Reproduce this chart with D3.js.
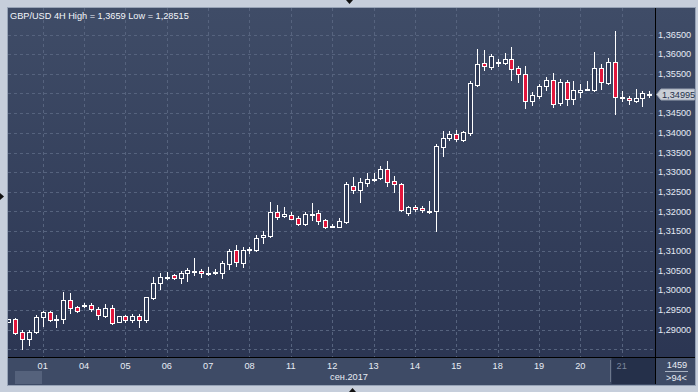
<!DOCTYPE html>
<html><head><meta charset="utf-8">
<script src="https://cdn.jsdelivr.net/npm/d3@7"></script>
<style>
html,body{margin:0;padding:0;background:#c6cedb;overflow:hidden;}
svg{display:block;font-family:"Liberation Sans",Arial,sans-serif;}
</style></head><body>
<svg id="c" width="698" height="392"></svg>
<script>
// ---- data (GBP/USD 4H candles) ----
const opens  = [1.29198,1.29259,1.28937,1.28751,1.28944,1.29310,1.29452,1.29259,1.29259,1.29742,
1.29564,1.29630,1.29622,1.29513,1.29351,1.29538,1.29198,1.29335,1.29249,1.29335,
1.29241,1.29813,1.30173,1.30334,1.30377,1.30316,1.30427,1.30494,1.30486,1.30443,
1.30468,1.30443,1.30671,1.31012,1.30697,1.31045,1.31019,1.31342,1.31375,1.31985,
1.31875,1.31901,1.31827,1.31680,1.31941,1.31951,1.31781,1.31621,1.31611,1.31738,
1.32637,1.32543,1.32729,1.32830,1.32840,1.33069,1.32772,1.32696,1.31967,1.32104,
1.32086,1.32018,1.32010,1.33643,1.33856,1.33983,1.33813,1.33991,1.35218,1.35769,
1.35675,1.35802,1.35777,1.35888,1.35642,1.35507,1.34812,1.34939,1.35185,1.35337,
1.34761,1.35287,1.34855,1.35040,1.35101,1.35083,1.35642,1.35279,1.35795,1.34898,
1.34880,1.34812,1.34888,1.34995];
const highs  = [1.29279,1.29284,1.28987,1.28987,1.29361,1.29478,1.29478,1.29368,1.29953,1.29935,
1.29597,1.29681,1.29665,1.29579,1.29648,1.29615,1.29343,1.29368,1.29386,1.29401,
1.29838,1.30326,1.30427,1.30461,1.30410,1.30486,1.30562,1.30816,1.30529,1.30588,
1.30529,1.30740,1.31052,1.31146,1.31088,1.31103,1.31400,1.31494,1.32239,1.32162,
1.32104,1.31977,1.31878,1.31985,1.32213,1.32035,1.31807,1.31680,1.31832,1.32739,
1.32874,1.32848,1.32983,1.32983,1.33153,1.33280,1.32899,1.32729,1.32137,1.32162,
1.32129,1.32264,1.33712,1.34034,1.34034,1.34067,1.34034,1.35312,1.36142,1.36099,
1.35998,1.35888,1.36031,1.36176,1.35693,1.35701,1.35033,1.35253,1.35414,1.35515,
1.35363,1.35355,1.35320,1.35236,1.35320,1.36049,1.35744,1.35896,1.36590,1.35066,
1.34949,1.35126,1.35066,1.35058];
const lows   = [1.29178,1.28878,1.28515,1.28614,1.28903,1.29089,1.29216,1.29056,1.29157,1.29411,
1.29445,1.29572,1.29478,1.29274,1.29325,1.29132,1.29191,1.29198,1.29198,1.29071,
1.29198,1.29775,1.30021,1.30283,1.30275,1.30189,1.30232,1.30392,1.30341,1.30377,
1.30417,1.30316,1.30537,1.30613,1.30595,1.30935,1.31002,1.31205,1.31357,1.31799,
1.31865,1.31799,1.31662,1.31654,1.31781,1.31672,1.31586,1.31596,1.31604,1.31697,
1.32475,1.32246,1.32653,1.32780,1.32830,1.32653,1.32500,1.32010,1.31916,1.32018,
1.31992,1.31967,1.31510,1.33407,1.33813,1.33796,1.33780,1.33948,1.35185,1.35591,
1.35634,1.35711,1.35761,1.35337,1.35287,1.34634,1.34710,1.34888,1.35083,1.34659,
1.34710,1.34710,1.34745,1.34913,1.35083,1.35066,1.35109,1.35236,1.34474,1.34812,
1.34721,1.34779,1.34677,1.34913];
const closes = [1.29259,1.28919,1.28751,1.28937,1.29310,1.29437,1.29241,1.29262,1.29742,1.29554,
1.29478,1.29632,1.29513,1.29361,1.29538,1.29173,1.29335,1.29249,1.29335,1.29249,
1.29818,1.30173,1.30326,1.30336,1.30321,1.30427,1.30511,1.30496,1.30427,1.30445,
1.30470,1.30689,1.30994,1.30707,1.31019,1.31047,1.31316,1.31400,1.31985,1.31865,
1.31934,1.31819,1.31687,1.31934,1.31943,1.31764,1.31611,1.31623,1.31756,1.32696,
1.32551,1.32739,1.32823,1.32832,1.33077,1.32739,1.32688,1.32028,1.32104,1.32053,
1.32028,1.32020,1.33661,1.33856,1.33966,1.33831,1.34009,1.35279,1.35744,1.35693,
1.35947,1.35804,1.35888,1.35624,1.35507,1.34812,1.34956,1.35185,1.35337,1.34745,
1.35287,1.34872,1.35083,1.35101,1.35103,1.35642,1.35294,1.35795,1.34913,1.34900,
1.34829,1.34898,1.35015,1.34995];
const dayLabels  = ["01","04","05","06","07","08","11","12","13","14","15","18","19","20","21"];
const priceTicks = [1.285,1.29,1.295,1.30,1.305,1.31,1.315,1.32,1.325,1.33,1.335,1.34,1.345,1.35,1.355,1.36,1.365];
const titleText  = "GBP/USD 4H  High = 1,3659 Low = 1,28515";
const monthText  = "сен.2017";
const lastPrice  = 1.34995;
const barsInfo   = ["1459", ">94<"];

// ---- layout ----
const W = 698, H = 392;
const pL = 8, pT = 8, pR = 655, pB = 357, panelR = 695, panelB = 385;
const svg = d3.select("#c");
const defs = svg.append("defs");
const g1 = defs.append("linearGradient").attr("id","bg").attr("x1",0).attr("y1",0).attr("x2",0).attr("y2",1);
g1.append("stop").attr("offset","0%").attr("stop-color","#3f4c67");
g1.append("stop").attr("offset","100%").attr("stop-color","#2a3451");
defs.append("clipPath").attr("id","clip").append("rect")
  .attr("x",pL).attr("y",pT).attr("width",pR-pL).attr("height",pB-pT);

const n = opens.length;
const data = d3.range(n).map(i => ({i, o:opens[i], h:highs[i], l:lows[i], c:closes[i]}));
const x = d3.scaleLinear().domain([0, n-1]).range([8.24, 649.3]);
const y = d3.scaleLinear().domain([1.29, 1.365]).range([329.5, 34.5]);

// outer frame
svg.append("rect").attr("x",0).attr("y",0).attr("width",W).attr("height",H).attr("fill","#c6cedb");
svg.append("rect").attr("x",pL-0.5).attr("y",pT-0.5).attr("width",panelR-pL+1).attr("height",panelB-pT+1)
  .attr("fill","url(#bg)").attr("stroke","#97a3b6");
// bottom strip
svg.append("rect").attr("x",pL).attr("y",pB+1).attr("width",panelR-pL).attr("height",panelB-pB-1).attr("fill","#3e4b66");
// small triangles on frame
svg.append("path").attr("d","M346,0 L353,0 L349.5,4 Z").attr("fill","#111");
svg.append("path").attr("d","M0,193 L0,200 L4,196.5 Z").attr("fill","#111");
svg.append("path").attr("d","M349,392 L356,392 L352.5,388 Z").attr("fill","#111");

// grid
const grid = svg.append("g").attr("stroke","#56637e").attr("stroke-width",1).attr("stroke-dasharray","3,3");
grid.selectAll("line.h").data(priceTicks).join("line")
  .attr("x1",pL).attr("x2",pR).attr("y1",d=>Math.round(y(d))+0.5).attr("y2",d=>Math.round(y(d))+0.5);
grid.selectAll("line.v").data(dayLabels).join("line")
  .attr("x1",(d,k)=>Math.round(x(5+6*k))+0.5).attr("x2",(d,k)=>Math.round(x(5+6*k))+0.5)
  .attr("y1",pT).attr("y2",pB);

// title
svg.append("text").attr("x",10).attr("y",19).attr("fill","#f2f5fa").attr("font-size",9.2).text(titleText);

// candles
const cg = svg.append("g").attr("clip-path","url(#clip)");
const cand = cg.selectAll("g.c").data(data).join("g");
cand.append("line")
  .attr("x1",d=>Math.round(x(d.i))+0.5).attr("x2",d=>Math.round(x(d.i))+0.5)
  .attr("y1",d=>Math.round(y(d.h))).attr("y2",d=>Math.round(y(d.l))+1)
  .attr("stroke","#ffffff").attr("stroke-width",1);
cand.append("rect")
  .attr("x",d=>Math.round(x(d.i))-1.5).attr("width",4)
  .attr("y",d=>Math.round(y(Math.max(d.o,d.c)))+0.5)
  .attr("height",d=>Math.max(1,Math.round(y(Math.min(d.o,d.c)))-Math.round(y(Math.max(d.o,d.c)))))
  .attr("fill",d=>{
    const hgt = Math.abs(y(d.o)-y(d.c));
    if (hgt < 1.5) return "#ffffff";
    return d.c < d.o ? "#e2163c" : "#2f3a56";
  })
  .attr("stroke","#ffffff").attr("stroke-width",1);

// black separators
svg.append("line").attr("x1",pR+0.5).attr("x2",pR+0.5).attr("y1",pT).attr("y2",panelB-1).attr("stroke","#000");
svg.append("line").attr("x1",pL).attr("x2",panelR).attr("y1",pB+0.5).attr("y2",pB+0.5).attr("stroke","#000");

// right axis labels (the one hidden by the last-price marker is skipped)
svg.append("g").selectAll("text")
  .data(priceTicks.filter(v=>v>=1.2899 && v<=1.3651 && Math.abs(y(v)-y(lastPrice))>8)).join("text")
  .attr("x",658).attr("y",d=>y(d)+3.3).attr("fill","#e4eaf4").attr("font-size",9.2)
  .text(d=>d3.format(".5f")(d).replace(".",","));

// last price marker
const ly = Math.round(y(lastPrice))+0.5;
svg.append("path").attr("d",`M656.5,${ly} L661,${ly-5.5} L694.5,${ly-5.5} L694.5,${ly+5.5} L661,${ly+5.5} Z`)
  .attr("fill","#c9ced7").attr("stroke","#9aa3b2");
svg.append("text").attr("x",662).attr("y",ly+3.3).attr("fill","#25304a").attr("font-size",9.2)
  .text(d3.format(".5f")(lastPrice).replace(".",","));

// bottom axis
svg.append("rect").attr("x",15).attr("y",371).attr("width",27).attr("height",13).attr("fill","#55627c");
svg.append("rect").attr("x",611.5).attr("y",358).attr("width",43.5).attr("height",26).attr("fill","#25304a");
svg.append("line").attr("x1",610.5).attr("x2",610.5).attr("y1",360).attr("y2",382).attr("stroke","#6c778c");
svg.append("g").selectAll("text").data(dayLabels).join("text")
  .attr("x",(d,k)=>x(5+6*k)).attr("y",369).attr("text-anchor","middle")
  .attr("fill",(d,k)=>k===dayLabels.length-1 ? "#7c879c" : "#e8edf5").attr("font-size",9.2)
  .text(d=>d);
svg.append("text").attr("x",349).attr("y",380).attr("text-anchor","middle").attr("fill","#e8edf5")
  .attr("font-size",9.2).text(monthText);
svg.append("text").attr("x",677).attr("y",368).attr("text-anchor","middle").attr("fill","#e8edf5")
  .attr("font-size",9.2).text(barsInfo[0]);
svg.append("line").attr("x1",665).attr("x2",688).attr("y1",371.5).attr("y2",371.5).attr("stroke","#a9b3c3");
svg.append("text").attr("x",676.5).attr("y",381).attr("text-anchor","middle").attr("fill","#e8edf5")
  .attr("font-size",9.2).text(barsInfo[1]);
</script>
</body></html>
